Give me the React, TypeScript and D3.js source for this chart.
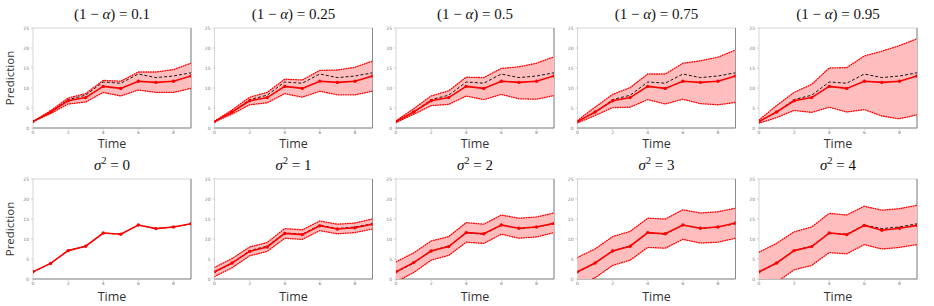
import React from "react";
import { scaleLinear, line, area } from "d3";

// time steps and tick labels
const times = [0, 1, 2, 3, 4, 5, 6, 7, 8, 9];
const xTicks = [0, 2, 4, 6, 8];
const yTicks = [0, 5, 10, 15, 20, 25];

// ground truth (black dashed)
const truth = [1.7, 3.9, 7.1, 8.2, 11.5, 11.2, 13.5, 12.6, 13.0, 13.8];

// top row: mean prediction is shared, bands differ per coverage level
const alphaLevels = ["0.1", "0.25", "0.5", "0.75", "0.95"];
const predTop = [1.6, 4.0, 6.8, 7.6, 10.4, 9.9, 11.7, 11.4, 11.7, 13.0];

const upperA10 = [1.6, 4.3, 7.5, 8.6, 11.9, 11.7, 14.0, 14.0, 14.6, 16.2];
const lowerA10 = [1.6, 3.6, 6.0, 6.5, 8.9, 8.0, 9.5, 8.9, 8.9, 9.9];
const upperA25 = [1.7, 4.5, 7.7, 8.9, 12.2, 12.0, 14.4, 14.5, 15.2, 16.7];
const lowerA25 = [1.5, 3.5, 5.8, 6.3, 8.6, 7.7, 9.2, 8.3, 8.3, 9.2];
const upperA50 = [1.8, 4.8, 8.0, 9.3, 12.7, 12.6, 14.9, 15.3, 16.2, 17.8];
const lowerA50 = [1.4, 3.4, 5.6, 5.9, 8.0, 7.1, 8.4, 7.3, 7.2, 8.1];
const upperA75 = [1.9, 5.2, 8.4, 10.1, 13.5, 13.5, 16.2, 16.8, 17.7, 19.5];
const lowerA75 = [1.3, 3.1, 5.1, 5.2, 7.1, 6.0, 7.2, 6.1, 5.8, 6.4];
const upperA95 = [2.0, 5.6, 8.9, 10.9, 15.0, 15.1, 18.0, 19.2, 20.6, 22.3];
const lowerA95 = [1.2, 2.6, 4.4, 3.9, 5.2, 4.0, 4.6, 3.0, 2.3, 3.3];

// bottom row: noise levels
const sigmaLevels = ["0", "1", "2", "3", "4"];
const predS0 = [1.8, 3.9, 7.1, 8.2, 11.5, 11.2, 13.5, 12.6, 13.0, 13.8];
const predS1 = [1.8, 4.0, 6.9, 8.0, 11.4, 11.1, 13.3, 12.5, 12.8, 13.7];
const predS2 = [1.8, 4.1, 7.0, 8.1, 11.6, 11.3, 13.5, 12.7, 13.0, 13.9];
const predS3 = [1.8, 4.0, 7.0, 8.2, 11.6, 11.3, 13.5, 12.7, 13.0, 14.0];
const predS4 = [1.8, 4.0, 7.1, 8.1, 11.5, 11.1, 13.4, 12.2, 12.7, 13.4];

const upperS1 = [2.9, 5.1, 8.0, 9.1, 12.6, 12.3, 14.5, 13.7, 14.0, 15.0];
const lowerS1 = [0.6, 2.8, 5.8, 6.9, 10.2, 9.9, 12.1, 11.3, 11.6, 12.5];
const upperS2 = [4.3, 6.5, 9.5, 10.6, 14.1, 13.7, 16.0, 15.2, 15.5, 16.5];
const lowerS2 = [-0.7, 1.6, 4.7, 5.9, 9.2, 8.9, 11.2, 10.2, 10.5, 11.6];
const upperS3 = [5.4, 7.5, 10.6, 11.9, 15.2, 15.0, 17.3, 16.5, 16.8, 17.7];
const lowerS3 = [-1.8, 0.3, 3.4, 4.7, 7.9, 7.7, 9.9, 9.0, 9.2, 10.2];
const upperS4 = [6.7, 8.9, 11.8, 13.0, 16.4, 16.0, 18.2, 17.2, 17.6, 18.4];
const lowerS4 = [-3.0, -0.8, 2.3, 3.4, 6.6, 6.3, 8.6, 7.5, 7.9, 8.6];

const topBands = [
  [upperA10, lowerA10],
  [upperA25, lowerA25],
  [upperA50, lowerA50],
  [upperA75, lowerA75],
  [upperA95, lowerA95],
];
const bottomPreds = [predS0, predS1, predS2, predS3, predS4];
const bottomBands = [
  null,
  [upperS1, lowerS1],
  [upperS2, lowerS2],
  [upperS3, lowerS3],
  [upperS4, lowerS4],
];

const W = 934;
const H = 306;
const plotW = 158;
const plotH = 100;
const panelLeft = (i) => 33 + i * 181.5;
const RED = "#ff0000";

function Panel({ id, left, top, pred, band, title, showYLabel, timeGap }) {
  const x = scaleLinear().domain([0, 9]).range([0, plotW]);
  const y = scaleLinear().domain([0, 25]).range([plotH, 0]);
  const ln = line<number>()
    .x((_, i) => x(times[i]))
    .y((d) => y(d));
  const ar = area<number>()
    .x((_, i) => x(times[i]))
    .y0((_, i) => y(band ? band[1][i] : 0))
    .y1((d) => y(d));

  return (
    <g transform={`translate(${left},${top})`}>
      <defs>
        <clipPath id={id}>
          <rect x={0} y={0} width={plotW} height={plotH} />
        </clipPath>
      </defs>
      <rect x={0} y={0} width={plotW} height={plotH} fill="#fff" stroke="#d6d6d6" strokeWidth={1} />
      <line x1={plotW} x2={plotW} y1={0} y2={plotH} stroke="#8a8a8a" strokeWidth={1} />
      <line x1={0} x2={plotW} y1={plotH} y2={plotH} stroke="#8a8a8a" strokeWidth={1} />
      {yTicks.map((t) => (
        <g key={"y" + t} transform={`translate(0,${y(t)})`}>
          <line x1={-2} x2={0} stroke="#aaa" strokeWidth={0.5} />
          <text x={-4} dy="0.35em" textAnchor="end" fontSize={4.5} fill="#777" fontFamily="DejaVu Sans">
            {t}
          </text>
        </g>
      ))}
      {xTicks.map((t) => (
        <g key={"x" + t} transform={`translate(${x(t)},${plotH})`}>
          <line y1={0} y2={2} stroke="#aaa" strokeWidth={0.5} />
          <text y={6.2} textAnchor="middle" fontSize={4.5} fill="#777" fontFamily="DejaVu Sans">
            {t}
          </text>
        </g>
      ))}
      <g clipPath={`url(#${id})`}>
        {band && <path d={ar(band[0]) || ""} fill="#ffbdbd" stroke="none" />}
        {band && (
          <>
            <path d={ln(band[0]) || ""} fill="none" stroke={RED} strokeWidth={1.3}
              strokeDasharray="0.8,1.6" strokeLinecap="round" />
            <path d={ln(band[1]) || ""} fill="none" stroke={RED} strokeWidth={1.3}
              strokeDasharray="0.8,1.6" strokeLinecap="round" />
          </>
        )}
        <path d={ln(truth) || ""} fill="none" stroke="#000" strokeWidth={0.9} strokeDasharray="3,2" />
        <path d={ln(pred) || ""} fill="none" stroke={RED} strokeWidth={1.6} />
        {pred.map((v, i) => (
          <circle key={i} cx={x(times[i])} cy={y(v)} r={1.7} fill={RED} />
        ))}
      </g>
      <text x={plotW / 2} y={-9} textAnchor="middle" fontSize={15} fontFamily="Liberation Serif" fill="#111">
        {title}
      </text>
      <text x={plotW / 2} y={plotH + timeGap} textAnchor="middle" fontSize={12.5} fontFamily="Open Sans" fill="#333">
        Time
      </text>
      {showYLabel && (
        <text transform={`translate(${-19},${plotH / 2}) rotate(-90)`} textAnchor="middle"
          fontSize={11.5} fontFamily="Open Sans" fill="#333">
          Prediction
        </text>
      )}
    </g>
  );
}

export default function App() {
  return (
    <svg width={W} height={H} style={{ position: "absolute", left: 0, top: 0, background: "#fff" }}>
      {alphaLevels.map((a, i) => (
        <Panel
          key={"a" + a}
          id={"clipA" + i}
          left={panelLeft(i)}
          top={28}
          pred={predTop}
          band={topBands[i]}
          showYLabel={i === 0}
          timeGap={20}
          title={
            <>
              <tspan>(1 − </tspan>
              <tspan fontStyle="italic">α</tspan>
              <tspan>) = {a}</tspan>
            </>
          }
        />
      ))}
      {sigmaLevels.map((s, i) => (
        <Panel
          key={"s" + s}
          id={"clipS" + i}
          left={panelLeft(i)}
          top={179}
          pred={bottomPreds[i]}
          band={bottomBands[i]}
          showYLabel={i === 0}
          timeGap={21.5}
          title={
            <>
              <tspan fontStyle="italic">σ</tspan>
              <tspan dy={-6} fontSize={10}>2</tspan>
              <tspan dy={6}> = {s}</tspan>
            </>
          }
        />
      ))}
    </svg>
  );
}
